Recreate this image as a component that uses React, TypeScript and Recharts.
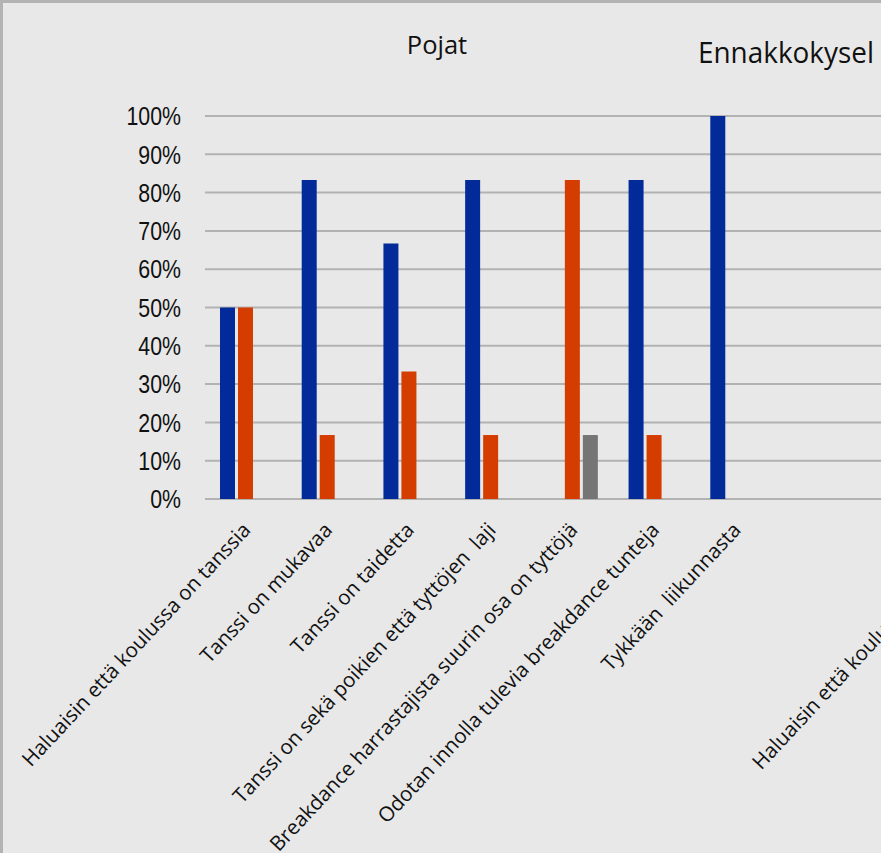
import React from 'react';
import { BarChart, Bar, XAxis, YAxis, CartesianGrid } from 'recharts';

const categories = [
  'Haluaisin että koulussa on tanssia',
  'Tanssi on mukavaa',
  'Tanssi on taidetta',
  'Tanssi on sekä poikien että tyttöjen  laji',
  'Breakdance harrastajista suurin osa on tyttöjä',
  'Odotan innolla tulevia breakdance tunteja',
  'Tykkään  liikunnasta',
];
const agree = [0.5, 0.833, 0.667, 0.833, 0, 0.833, 1];
const disagree = [0.5, 0.167, 0.333, 0.167, 0.833, 0.167, 0];
const unsure = [0, 0, 0, 0, 0.167, 0, 0];
const yTicks = [0, 0.1, 0.2, 0.3, 0.4, 0.5, 0.6, 0.7, 0.8, 0.9, 1];

const title = 'Pojat';
// neighbouring chart, only partly visible
const nextTitle = 'Ennakkokysel';
const nextFirstCategory = 'Haluaisin että koulussa on tanssia';

const data = categories.map((name, i) => ({
  name,
  agree: agree[i],
  disagree: disagree[i],
  unsure: unsure[i],
}));

const LABEL_FONT = "'Open Sans', 'Noto Sans', sans-serif";
const ANGLE = -47;

const CategoryTick = (props: any) => {
  const { x, y, payload } = props;
  const tx = x + 6;
  const ty = y + 32;
  return (
    <text
      x={tx}
      y={ty}
      textAnchor="end"
      transform={`rotate(${ANGLE}, ${tx}, ${ty})`}
      fontFamily={LABEL_FONT}
      fontSize={20.5}
      fill="#111"
      style={{ whiteSpace: 'pre' }}
    >
      {payload.value}
    </text>
  );
};

// narrow percent labels (Arial Narrow look)
const PercentTick = (props: any) => {
  const { x, y, payload } = props;
  return (
    <g transform={`translate(${x}, ${y}) scale(0.82, 1)`}>
      <text
        x={0}
        y={0}
        dy="0.355em"
        textAnchor="end"
        fontFamily="'Liberation Sans', Arial, sans-serif"
        fontSize={26}
        fill="#111"
      >
        {`${Math.round(payload.value * 100)}%`}
      </text>
    </g>
  );
};

export default function App() {
  return (
    <div
      style={{
        position: 'absolute',
        left: 0,
        top: 0,
        width: 881,
        height: 853,
        overflow: 'hidden',
        background: '#e8e8e8',
      }}
    >
      <BarChart
        width={881}
        height={853}
        data={data}
        margin={{ top: 116, right: 0, bottom: 0, left: 0 }}
        barSize={15}
        barGap={3}
      >
        <CartesianGrid vertical={false} stroke="#b2b2b2" strokeWidth={2} />
        <XAxis
          dataKey="name"
          height={354}
          axisLine={false}
          tickLine={false}
          tickSize={0}
          tickMargin={0}
          interval={0}
          padding={{ left: 0, right: 104 }}
          tick={<CategoryTick />}
        />
        <YAxis
          width={205}
          domain={[0, 1]}
          ticks={yTicks}
          axisLine={false}
          tickLine={false}
          tickSize={24}
          tickMargin={0}
          tick={<PercentTick />}
        />
        <Bar dataKey="agree" fill="#022a98" isAnimationActive={false} />
        <Bar dataKey="disagree" fill="#d43c00" isAnimationActive={false} />
        <Bar dataKey="unsure" fill="#757575" isAnimationActive={false} />
      </BarChart>
      <svg
        width={881}
        height={853}
        style={{ position: 'absolute', left: 0, top: 0, pointerEvents: 'none' }}
      >
        <text x={437} y={54} textAnchor="middle" fontFamily={LABEL_FONT} fontSize={25.5} fill="#111">
          {title}
        </text>
        <text
          x={698}
          y={63}
          fontFamily={LABEL_FONT}
          fontSize={30}
          textLength={176}
          lengthAdjust="spacingAndGlyphs"
          fill="#111"
        >
          {nextTitle}
        </text>
        <text
          x={982}
          y={534}
          textAnchor="end"
          transform={`rotate(${ANGLE}, 982, 534)`}
          fontFamily={LABEL_FONT}
          fontSize={20.5}
          fill="#111"
        >
          {nextFirstCategory}
        </text>
      </svg>
      <div style={{ position: 'absolute', left: 0, top: 0, width: 3, height: 853, background: '#b3b3b3' }} />
      <div style={{ position: 'absolute', left: 0, top: 0, width: 881, height: 3, background: '#b3b3b3' }} />
    </div>
  );
}
